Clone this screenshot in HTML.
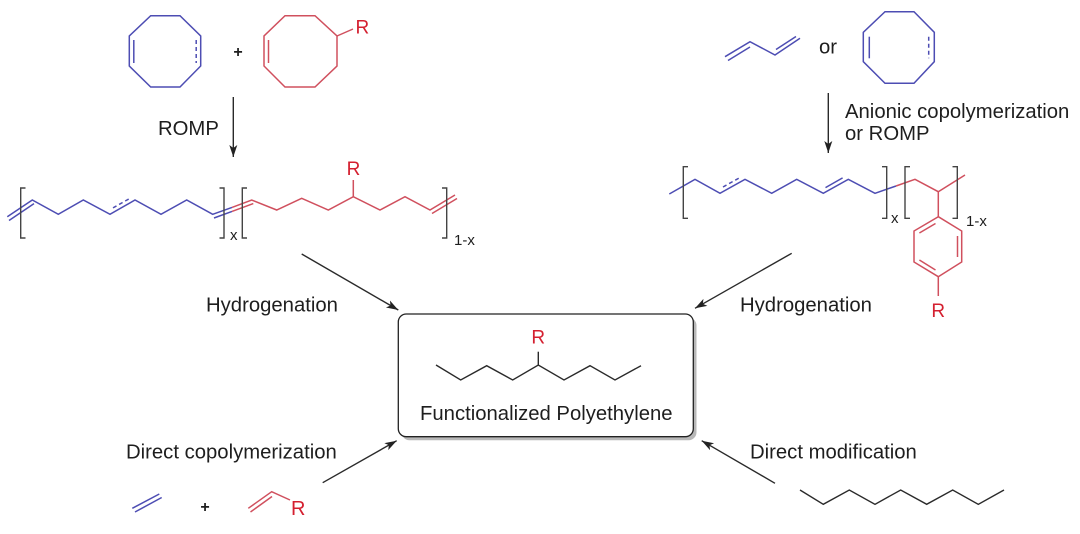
<!DOCTYPE html>
<html><head><meta charset="utf-8"><style>
html,body{margin:0;padding:0;background:#fff;}
svg{display:block;}
text{font-family:"Liberation Sans",Arial,sans-serif;fill:#1e1e1e;}
.b{stroke:#4d4db3;stroke-width:1.5;fill:none;stroke-linejoin:miter;}
.r{stroke:#d0505e;stroke-width:1.5;fill:none;}
.k{stroke:#2a2a2a;stroke-width:1.4;fill:none;}
.br{stroke:#444;stroke-width:1.4;fill:none;}
.dash{stroke-dasharray:4 3;}
.rt{fill:#d42030;}
</style></head><body>
<svg width="1080" height="534" viewBox="0 0 1080 534" xmlns="http://www.w3.org/2000/svg">
<defs>
<marker id="ah" markerUnits="userSpaceOnUse" markerWidth="14" markerHeight="10" refX="12" refY="4" orient="auto">
<path d="M0,0 L12,4 L0,8 L3,4 z" fill="#222"/>
</marker>
</defs>

<!-- Top-left: blue COD -->
<polygon class="b" points="150.7,15.7 180,15.7 200.7,36 200.7,66 180,87 150.7,87 129.3,66 129.3,36"/>
<line class="b" x1="133.8" y1="40" x2="133.8" y2="63"/>
<line class="b dash" x1="196.2" y1="40" x2="196.2" y2="63"/>
<text x="238" y="57" font-size="16" text-anchor="middle" font-weight="bold">+</text>
<!-- red ring -->
<polygon class="r" points="285,15.7 315,15.7 337,36 337,66 315,87 285,87 264,66 264,36"/>
<line class="r" x1="268.5" y1="40" x2="268.5" y2="63"/>
<line class="r" x1="337" y1="36" x2="353" y2="29"/>
<text x="355.5" y="33.5" font-size="19" class="rt">R</text>

<!-- ROMP arrow -->
<line class="k" x1="233.3" y1="97" x2="233.3" y2="157" marker-end="url(#ah)"/>
<text x="158" y="135" font-size="20.3">ROMP</text>

<!-- Left polymer -->
<polyline class="b" points="7.3,216.7 32.3,200 58.3,214.3 83.3,200 110,214.3 135,200 161,214.3 186.7,200 212.7,214.3 232,207.4"/>
<line class="b" x1="9" y1="220.5" x2="34" y2="203.6"/>
<line class="b dash" x1="113" y1="207.9" x2="129.3" y2="198.7"/>
<line class="b" x1="214" y1="218" x2="232" y2="211.4"/>
<polyline class="r" points="232,207.4 251.7,200 276.7,210 301.7,198.3 328.3,210 353.3,196.7 380,210 405,196.7 430,210 455,195"/>
<line class="r" x1="232" y1="211.4" x2="253.3" y2="203.6"/>
<line class="r" x1="432" y1="213.5" x2="457" y2="198.5"/>
<line class="r" x1="353.3" y1="196.7" x2="353.3" y2="180"/>
<text x="353.5" y="175" font-size="19" text-anchor="middle" class="rt">R</text>
<path class="br" d="M25.5,188 H20.7 V238 H25.5"/>
<path class="br" d="M219.5,188 H224 V238 H219.5"/>
<text x="230" y="240" font-size="15">x</text>
<path class="br" d="M247,188 H242.3 V238 H247"/>
<path class="br" d="M442,188 H446.7 V238 H442"/>
<text x="454" y="245" font-size="15">1-x</text>

<!-- Top-right: butadiene -->
<polyline class="b" points="725,56.7 750,41.7 775,55 800,38.3"/>
<line class="b" x1="728" y1="60.5" x2="750" y2="47"/>
<line class="b" x1="776" y1="49.5" x2="796" y2="36.5"/>
<text x="819" y="53.5" font-size="20.3">or</text>
<polygon class="b" points="885,11.7 914,11.7 934.3,32.3 934.3,61.7 914,83.3 885,83.3 863.3,61.7 863.3,32.3"/>
<line class="b" x1="869.3" y1="36.7" x2="869.3" y2="58.3"/>
<line class="b dash" x1="928.7" y1="36.7" x2="928.7" y2="58.3"/>

<line class="k" x1="828.3" y1="93" x2="828.3" y2="153" marker-end="url(#ah)"/>
<text x="845" y="118" font-size="20.3">Anionic copolymerization</text>
<text x="845" y="140" font-size="20.3">or ROMP</text>

<!-- Right polymer -->
<polyline class="b" points="669.3,194 695,179.3 720,193.3 745,179.3 771.7,193.3 796.7,179.3 823.3,193.3 848.3,179.3 875,193.3 896,186"/>
<line class="b dash" x1="723" y1="187" x2="739.3" y2="177.9"/>
<line class="b" x1="825.5" y1="187.6" x2="842.6" y2="177.9"/>
<polyline class="r" points="896,186 915,179.3 938.3,191.7 965,175"/>
<line class="r" x1="938.3" y1="191.7" x2="938.3" y2="216.7"/>
<polygon class="r" points="938.3,216.7 961.7,231 961.7,262 938.3,276.7 914,262 914,231"/>
<line class="r" x1="919.4" y1="233" x2="935.5" y2="223.5"/>
<line class="r" x1="957.5" y1="236" x2="957.5" y2="257"/>
<line class="r" x1="919.4" y1="260" x2="935.5" y2="270"/>
<line class="r" x1="938.3" y1="276.7" x2="938.3" y2="296"/>
<text x="938.3" y="317" font-size="19" text-anchor="middle" class="rt">R</text>
<path class="br" d="M688,166.7 H683.3 V218.3 H688"/>
<path class="br" d="M882,166.7 H886.7 V218.3 H882"/>
<text x="891" y="223" font-size="15">x</text>
<path class="br" d="M910,166.7 H905 V218.3 H910"/>
<path class="br" d="M952.5,166.7 H957.3 V218.3 H952.5"/>
<text x="966" y="226" font-size="15">1-x</text>

<!-- Hydrogenation arrows -->
<line class="k" x1="301.7" y1="254" x2="398.3" y2="310" marker-end="url(#ah)"/>
<text x="206" y="311.7" font-size="20.3">Hydrogenation</text>
<line class="k" x1="791.7" y1="253.3" x2="695" y2="308.3" marker-end="url(#ah)"/>
<text x="740" y="311.7" font-size="20.3">Hydrogenation</text>

<!-- Central box -->
<rect x="401.5" y="317.5" width="295" height="122.7" rx="8" fill="#b8b8b8"/>
<rect x="398.3" y="314" width="295" height="122.7" rx="8" fill="#fff" stroke="#222" stroke-width="1.3"/>
<polyline class="k" points="436,365 460.7,380 486.7,365.7 512.7,380 538.3,365 564,380 590,365.7 615,380 641,365.7"/>
<line class="k" x1="538.3" y1="365" x2="538.3" y2="351.7"/>
<text x="538.3" y="343.5" font-size="19" text-anchor="middle" class="rt">R</text>
<text x="420" y="420" font-size="20.3">Functionalized Polyethylene</text>

<!-- Bottom-left -->
<text x="126" y="458.3" font-size="20.3">Direct copolymerization</text>
<line class="k" x1="322.7" y1="482.7" x2="396.7" y2="440.7" marker-end="url(#ah)"/>
<line class="b" x1="132.3" y1="508.3" x2="159.3" y2="494"/>
<line class="b" x1="135" y1="512" x2="161.7" y2="497.5"/>
<text x="205" y="512" font-size="16" text-anchor="middle" font-weight="bold">+</text>
<polyline class="r" points="248.3,508.3 271.7,491.7 290,500"/>
<line class="r" x1="250.5" y1="512" x2="272" y2="496.5"/>
<text x="291" y="515" font-size="20" class="rt">R</text>

<!-- Bottom-right -->
<text x="750" y="458.3" font-size="20.3">Direct modification</text>
<line class="k" x1="775" y1="483.3" x2="701.7" y2="440.7" marker-end="url(#ah)"/>
<polyline class="k" points="800,490 823.3,504.3 849.3,490 875,504.3 900.7,490 926.7,504.3 952.7,490 978.3,504.3 1004,490"/>
</svg>
</body></html>
